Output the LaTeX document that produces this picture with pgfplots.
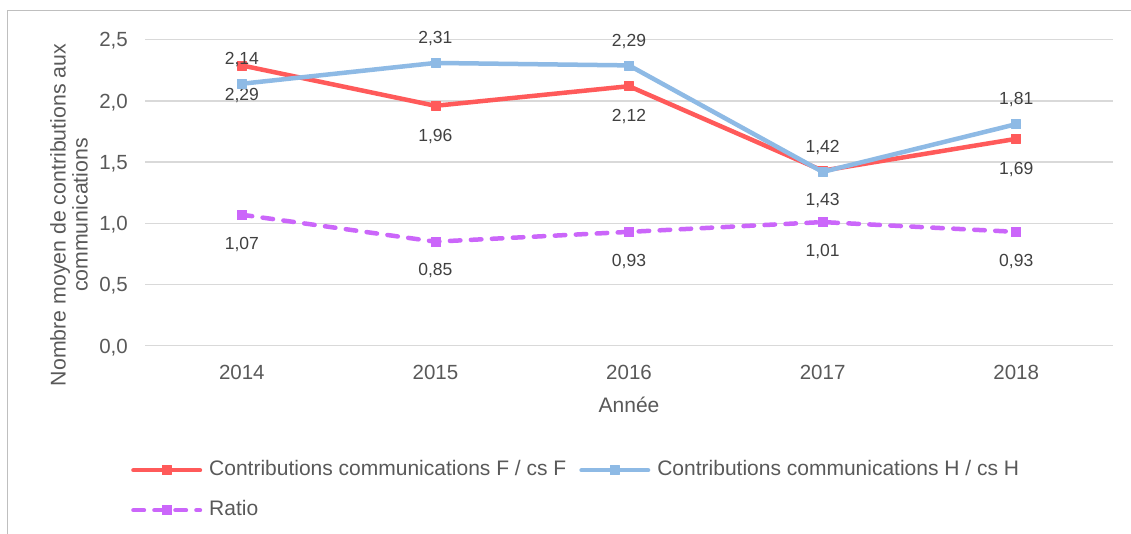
\documentclass[border=0pt]{standalone}
\usepackage{fontspec}
\setmainfont{Liberation Sans}
\usepackage{pgfplots}
\pgfplotsset{compat=1.18}
\definecolor{cF}{HTML}{FF5A5A}
\definecolor{cH}{HTML}{8EBAE5}
\definecolor{cR}{HTML}{CB66FA}
\definecolor{gridc}{HTML}{D9D9D9}
\definecolor{framec}{HTML}{BFBFBF}
\definecolor{txt}{HTML}{595959}
\definecolor{lbl}{HTML}{404040}
\begin{document}
\begin{tikzpicture}[x=1pt,y=1pt]
\useasboundingbox (0,0) rectangle (1131,533);
\fill[white] (0,0) rectangle (1131,533);
\draw[framec, line width=1.3pt] (7.5,-2) -- (7.5,522.2) -- (1135,522.2);
\begin{axis}[
  at={(145pt,187.3pt)}, anchor=south west,
  scale only axis, width=968pt, height=306pt,
  xmin=-0.5, xmax=4.5, ymin=0, ymax=2.5,
  xtick={0,1,2,3,4}, xticklabels={2014,2015,2016,2017,2018},
  ytick={0,0.5,1,1.5,2,2.5},
  axis line style={draw=none},
  major tick length=0pt,
  ymajorgrids, major grid style={gridc, line width=1.3pt},
  /pgf/number format/assume math mode=true,
  yticklabel={\pgfmathprintnumber[use comma,fixed,fixed zerofill,precision=1]{\tick}},
  tick label style={font=\fontsize{20.5}{24}\selectfont, text=txt, inner sep=0pt},
  xticklabel style={anchor=base, yshift=-33.6pt},
  yticklabel style={anchor=base east, xshift=-17pt, yshift=-7.3pt},
  xlabel={Année},
  xlabel style={font=\fontsize{21}{24}\selectfont, text=txt, at={(axis description cs:0.5,-0.2183)}, anchor=base, inner sep=0pt},
  ylabel={Nombre moyen de contributions aux\\communications},
  ylabel style={font=\fontsize{21.3}{22}\selectfont, text=txt, align=center, at={(axis description cs:-0.0785,0.427)}, anchor=center, inner sep=0pt},
  clip=false,
  legend columns=2,
  legend cell align=left,
  legend style={at={(axis description cs:-0.01446,-0.3719)}, anchor=north west, draw=none, fill=none,
    font=\fontsize{21}{24}\selectfont, text=txt, inner sep=0pt,
    nodes={inner sep=0pt, text height=16pt, text depth=5pt},
    row sep=19pt,
    /tikz/every odd column/.append style={column sep=7pt},
    /tikz/every even column/.append style={column sep=13pt}},
  legend image code/.code={\draw[mark repeat=2,mark phase=2,#1] plot coordinates {(2.25pt,0pt)(35.5pt,0pt)(68.75pt,0pt)};},
  nodes near coords={\pgfmathprintnumber[use comma,fixed,fixed zerofill,precision=2]{\pgfplotspointmeta}},
  every node near coord/.append style={font=\fontsize{17.5}{21}\selectfont, text=lbl, anchor=base, inner sep=0pt},
]
\addplot[cF, line width=4.5pt, line join=round, line cap=round, mark=square*, mark size=4.5pt, mark options={solid, line width=0.5pt, fill=cF},
  every node near coord/.append style={yshift=-35.3pt}]
  coordinates {(0,2.29) (1,1.96) (2,2.12) (3,1.43) (4,1.69)};
\addlegendentry{Contributions communications F / cs F}
\addplot[cH, line width=4.5pt, line join=round, line cap=round, mark=square*, mark size=4.5pt, mark options={solid, line width=0.5pt, fill=cH},
  every node near coord/.append style={yshift=19.2pt}]
  coordinates {(0,2.14) (1,2.31) (2,2.29) (3,1.42) (4,1.81)};
\addlegendentry{Contributions communications H / cs H}
\addplot[cR, line width=4.5pt, line cap=round, dash pattern=on 10.5pt off 10.5pt, mark=square*, mark size=4.5pt, mark options={solid, line width=0.5pt, fill=cR},
  every node near coord/.append style={yshift=-34.3pt}]
  coordinates {(0,1.07) (1,0.85) (2,0.93) (3,1.01) (4,0.93)};
\addlegendentry{Ratio}
\end{axis}
\end{tikzpicture}
\end{document}
